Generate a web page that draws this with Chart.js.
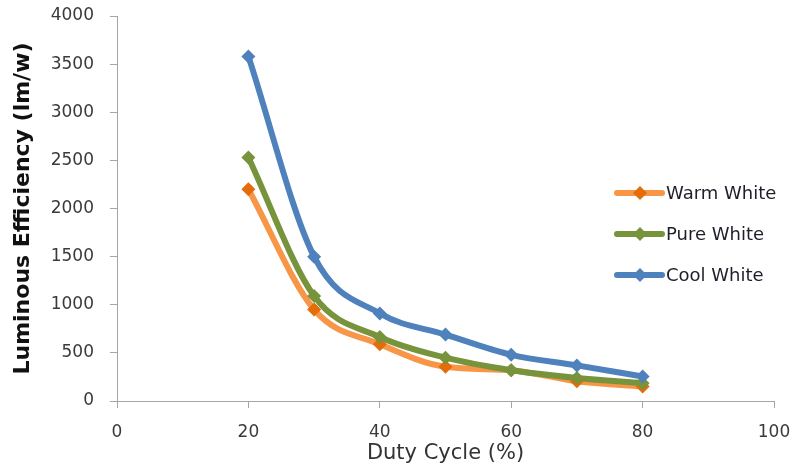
<!DOCTYPE html>
<html lang="en">
<head>
    <meta charset="UTF-8">
    <title>Luminous Efficiency vs Duty Cycle</title>
    <script src="https://cdn.jsdelivr.net/npm/chart.js"></script>
    <style>
        html, body { margin: 0; padding: 0; background: #fff; }
        #wrap { width: 797px; height: 466px; }
    </style>
</head>
<body>
    <div id="wrap"><canvas id="effChart"></canvas></div>

    <script>
        // data
        const dutyCycle = [20, 30, 40, 50, 60, 70, 80];
        const warmWhite = [2200, 950, 590, 355, 320, 205, 150];
        const pureWhite = [2530, 1090, 665, 450, 320, 240, 185];
        const coolWhite = [3580, 1500, 910, 690, 480, 370, 255];
        const seriesNames = ['Warm White', 'Pure White', 'Cool White'];
        const lineColors = ['#F79646', '#77933C', '#4F81BD'];
        const markColors = ['#E46C0A', '#77933C', '#4F81BD'];

        const font = 'DejaVu Sans';

        function toPoints(ys) {
            return dutyCycle.map((x, i) => ({ x: x, y: ys[i] }));
        }

        const datasets = [warmWhite, pureWhite, coolWhite].map((ys, i) => ({
            label: seriesNames[i],
            data: toPoints(ys),
            borderColor: lineColors[i],
            backgroundColor: markColors[i],
            borderWidth: 6,
            cubicInterpolationMode: 'monotone',
            pointStyle: 'rectRot',
            pointRadius: 7,
            pointBorderWidth: 0,
            pointBackgroundColor: markColors[i],
            order: 3 - i   // cool white drawn on top
        }));

        // legend drawn inside the plot area, like the original
        const sideLegend = {
            id: 'sideLegend',
            afterDatasetsDraw(chart) {
                const ctx = chart.ctx;
                const rows = [193, 234, 275];
                ctx.save();
                seriesNames.forEach((name, i) => {
                    const y = rows[i];
                    ctx.strokeStyle = lineColors[i];
                    ctx.lineWidth = 6;
                    ctx.lineCap = 'round';
                    ctx.beginPath();
                    ctx.moveTo(617, y);
                    ctx.lineTo(662, y);
                    ctx.stroke();
                    ctx.fillStyle = markColors[i];
                    ctx.beginPath();
                    ctx.moveTo(640, y - 7);
                    ctx.lineTo(647, y);
                    ctx.lineTo(640, y + 7);
                    ctx.lineTo(633, y);
                    ctx.closePath();
                    ctx.fill();
                    ctx.fillStyle = '#1f1f2a';
                    ctx.font = '18px "' + font + '"';
                    ctx.textBaseline = 'middle';
                    ctx.textAlign = 'left';
                    ctx.fillText(name, 666, y + 1);
                });
                ctx.restore();
            }
        };

        new Chart(document.getElementById('effChart'), {
            type: 'line',
            data: { datasets: datasets },
            plugins: [sideLegend],
            options: {
                responsive: true,
                maintainAspectRatio: false,
                animation: false,
                layout: { padding: { top: 16, right: 23, left: 0, bottom: 0 } },
                plugins: {
                    legend: { display: false },
                    tooltip: { enabled: false }
                },
                scales: {
                    x: {
                        type: 'linear',
                        min: 0,
                        max: 100,
                        ticks: {
                            stepSize: 20, color: '#3a3a3a', padding: 14,
                            font: { family: font, size: 17 },
                            callback: v => String(v)
                        },
                        grid: { drawOnChartArea: false, tickLength: 7, color: '#a6a6a6' },
                        border: { color: '#a6a6a6' },
                        title: {
                            display: true,
                            text: 'Duty Cycle (%)',
                            color: '#333',
                            font: { family: font, size: 21 },
                            padding: { top: 11, bottom: 0 }
                        },
                        afterFit(scale) {
                            scale.height = 65;
                            scale.paddingLeft = 0;
                            scale.paddingRight = 0;
                        }
                    },
                    y: {
                        min: 0,
                        max: 4000,
                        ticks: {
                            stepSize: 500, color: '#3a3a3a', padding: 16,
                            font: { family: font, size: 17 },
                            callback: v => String(v)
                        },
                        grid: { drawOnChartArea: false, tickLength: 7, color: '#a6a6a6' },
                        border: { color: '#a6a6a6' },
                        title: {
                            display: true,
                            text: 'Luminous Efficiency (lm/w)',
                            color: '#111',
                            font: { family: font, size: 22, weight: 'bold' },
                            padding: { top: 10, bottom: 0 }
                        },
                        afterFit(scale) {
                            scale.width = 117;
                            scale.paddingTop = 0;
                            scale.paddingBottom = 0;
                        }
                    }
                }
            }
        });
    </script>
</body>
</html>
